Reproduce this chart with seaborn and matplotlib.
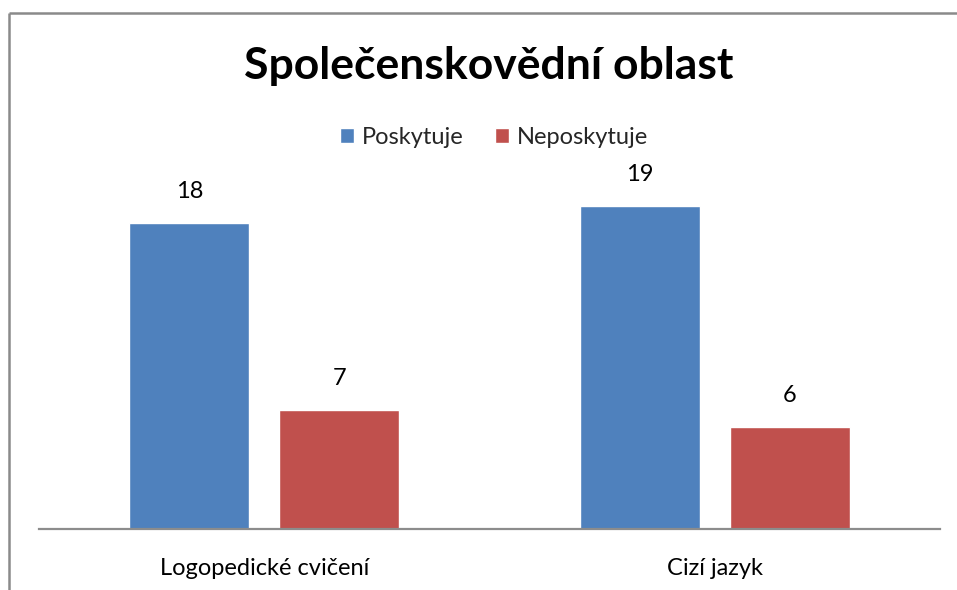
import matplotlib
matplotlib.use("Agg")
import matplotlib.pyplot as plt
from matplotlib.lines import Line2D
from matplotlib.patches import Rectangle
import pandas as pd
import seaborn as sns

categories = ["Logopedické cvičení", "Cizí jazyk"]
series = ["Poskytuje", "Neposkytuje"]
poskytuje = [18, 19]
neposkytuje = [7, 6]
colors = ["#4F81BD", "#C0504D"]

df = pd.DataFrame({
    "Kategorie": categories * 2,
    "Odpoved": [series[0]] * 2 + [series[1]] * 2,
    "Pocet": poskytuje + neposkytuje,
})

sns.set_theme(style="white")
plt.rcParams["font.family"] = ["Lato", "DejaVu Sans"]

W, H = 957, 590
fig = plt.figure(figsize=(W / 100, H / 100), dpi=100)
ax = fig.add_axes([39 / W, 1 - 529 / H, (940 - 39) / W, 374 / H])

sns.barplot(data=df, x="Kategorie", y="Pocet", hue="Odpoved", order=categories,
            hue_order=series, palette=colors, width=0.665, gap=0.2,
            saturation=1, ax=ax, legend=False)

for cont in ax.containers:
    ax.bar_label(cont, padding=15, fontsize=17, color="#000000")

ax.set_xlim(-0.5, 1.5)
ax.set_ylim(0, 22)
ax.set_xlabel("")
ax.set_ylabel("")
ax.set_yticks([])
ax.tick_params(axis="x", length=0, pad=21, labelsize=17, labelcolor="#000000")
for s in ["top", "right", "left"]:
    ax.spines[s].set_visible(False)
ax.spines["bottom"].set_color("#8c8c8c")
ax.spines["bottom"].set_linewidth(1.6)

fig.text(489 / W, 1 - 66 / H, "Společenskovědní oblast", ha="center", va="center",
         fontsize=32, fontweight="bold", color="#000000")

handles = [Rectangle((0, 0), 1, 1, facecolor=c) for c in colors]
fig.legend(handles, series, loc="center", bbox_to_anchor=(494 / W, 1 - 137 / H),
           ncol=2, frameon=False, fontsize=17, handlelength=0.6, handleheight=0.6,
           handletextpad=0.35, columnspacing=1.3)

# outer frame (only top and left edges are visible in the crop)
fig.add_artist(Line2D([9 / W, 1.05], [1 - 13 / H, 1 - 13 / H], transform=fig.transFigure,
                      color="#8a8a8a", linewidth=1.8, solid_capstyle="butt"))
fig.add_artist(Line2D([9 / W, 9 / W], [-0.05, 1 - 13 / H], transform=fig.transFigure,
                      color="#8a8a8a", linewidth=1.8, solid_capstyle="butt"))

fig.savefig("out.png", dpi=100)
